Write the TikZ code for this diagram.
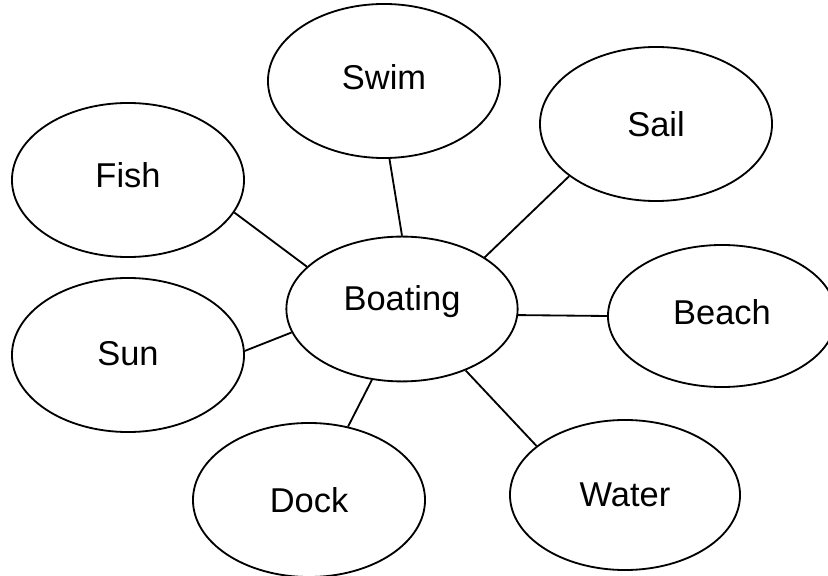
\documentclass[tikz,border=0pt]{standalone}
\usepackage{fontspec}
\setmainfont{Liberation Sans}
\usetikzlibrary{shapes.geometric}

\begin{document}
\begin{tikzpicture}[x=0.025cm, y=-0.025cm, line width=1.3pt,
    every node/.style={ellipse, draw, inner sep=0pt, font=\fontsize{24.5}{29}\selectfont},
    topic/.style={minimum width=5.8cm, minimum height=3.85cm},
    lift/.style={text depth=#1}]
    \clip (0,0) rectangle (828,576);

    % Nodes
    \node[minimum width=5.78cm, minimum height=3.62cm, lift=15pt] (boat) at (402,309) {Boating};
    \node[topic, lift=5.7pt] (swim) at (384,81) {Swim};
    \node[topic] (sail) at (656,124) {Sail};
    \node[topic, lift=7pt] (fish) at (128,180) {Fish};
    \node[minimum width=5.7cm, minimum height=3.55cm, lift=5.7pt] (beach) at (722,316) {Beach};
    \node[topic, lift=2.8pt] (sun) at (128,355) {Sun};
    \node[topic] (dock) at (309,500) {Dock};
    \node[minimum width=5.75cm, minimum height=3.75cm] (water) at (625,495) {Water};

    % Spokes
    \draw (boat.90) -- (swim.-86);
    \draw (boat.32) -- (sail.-149);
    \draw (boat.156) -- (fish.-17);
    \draw (boat.-3) -- (beach.180);
    \draw (boat.-168) -- (sun.2);
    \draw (boat.-113) -- (dock.62);
    \draw (boat.-44) -- (water.151);
\end{tikzpicture}
\end{document}
